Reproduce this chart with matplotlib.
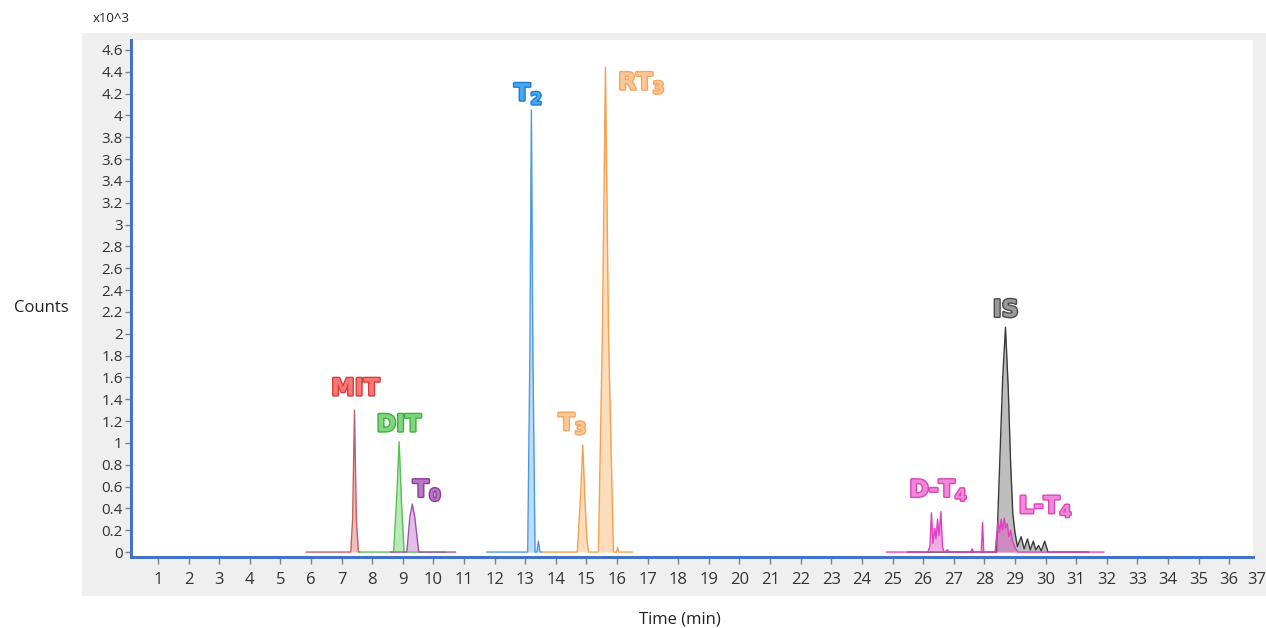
import matplotlib
matplotlib.use("Agg")
import matplotlib.pyplot as plt
import matplotlib.patheffects as pe
from matplotlib.patches import Rectangle

plt.rcParams['font.family'] = ['Open Sans', 'DejaVu Sans']

# traces (time in min, counts in x10^3)
mit_t = [5.85, 7.30, 7.36, 7.42, 7.48, 7.55, 7.60]
mit_y = [0.0, 0.0, 0.30, 1.30, 0.30, 0.0, 0.0]

dit_t = [7.55, 8.70, 8.80, 8.88, 8.95, 9.04, 10.40]
dit_y = [0.0, 0.0, 0.50, 1.01, 0.50, 0.0, 0.0]

t0_t = [8.60, 9.13, 9.23, 9.31, 9.39, 9.52, 10.72]
t0_y = [0.0, 0.0, 0.32, 0.44, 0.32, 0.0, 0.0]

t2_t = [11.75, 13.08, 13.15, 13.20, 13.25, 13.32, 13.38, 13.43, 13.48, 13.55]
t2_y = [0.0, 0.0, 1.80, 4.05, 1.80, 0.0, 0.0, 0.10, 0.0, 0.0]

t3_t = [13.55, 14.70, 14.80, 14.88, 14.95, 14.99, 15.02, 15.07,
        15.39, 15.52, 15.62, 15.72, 15.88, 15.98, 16.02, 16.06, 16.50]
t3_y = [0.0, 0.0, 0.48, 0.98, 0.48, 0.25, 0.10, 0.0,
        0.0, 2.00, 4.44, 2.00, 0.0, 0.0, 0.04, 0.0, 0.0]

is_t = [25.50, 28.40, 28.50, 28.60, 28.69, 28.78, 28.86, 28.93, 29.00, 29.08,
        29.20, 29.30, 29.41, 29.50, 29.60, 29.68, 29.77, 29.86, 29.97, 30.08, 31.40]
is_y = [0.0, 0.0, 0.80, 1.60, 2.06, 1.50, 0.80, 0.35, 0.18, 0.05,
        0.14, 0.03, 0.12, 0.02, 0.10, 0.02, 0.06, 0.01, 0.10, 0.0, 0.0]

t4_t = [24.80, 26.15, 26.22, 26.27, 26.32, 26.38, 26.42, 26.47, 26.52, 26.58,
        26.63, 26.68, 26.80, 26.85, 27.55, 27.60, 27.65, 27.90, 27.94, 27.98,
        28.35, 28.40, 28.45, 28.50, 28.55, 28.60, 28.65, 28.70, 28.75, 28.80,
        28.86, 28.92, 29.00, 29.10, 31.90]
t4_y = [0.0, 0.0, 0.05, 0.36, 0.08, 0.22, 0.12, 0.30, 0.15, 0.37,
        0.05, 0.0, 0.02, 0.0, 0.0, 0.03, 0.0, 0.0, 0.27, 0.0,
        0.0, 0.15, 0.28, 0.18, 0.30, 0.20, 0.31, 0.22, 0.26, 0.14,
        0.20, 0.10, 0.04, 0.0, 0.0]

# peak labels
labels = ['MIT', 'DIT', r'T$_\mathbf{0}$', r'T$_\mathbf{2}$', r'RT$_\mathbf{3}$',
          r'T$_\mathbf{3}$', 'IS', r'D-T$_\mathbf{4}$', r'L-T$_\mathbf{4}$']
label_x = [7.45, 8.87, 9.80, 13.10, 16.80, 14.55, 28.70, 26.50, 30.00]
label_y = [1.50, 1.17, 0.57, 4.20, 4.30, 1.18, 2.22, 0.57, 0.42]
label_fill = ['#f47a78', '#7fd67f', '#b777c4', '#49a6f0', '#fcc796',
              '#fcc796', '#9a9a9a', '#f088d6', '#f088d6']
label_edge = ['#e03a36', '#3fb03f', '#8e3c9c', '#1a7fd0', '#f6a660',
              '#f6a660', '#4a4a4a', '#dd44bb', '#dd44bb']

fig = plt.figure(figsize=(12.66, 6.28), dpi=100)
# grey panel behind the plot area
fig.add_artist(Rectangle((0.065, 0.051), 0.935, 0.896, transform=fig.transFigure,
                         facecolor='#efefef', edgecolor='none', zorder=-10))
ax = fig.add_axes([0.1035, 0.1131, 0.8863, 0.8232])
ax.set_facecolor('white')

traces = [
    (mit_t, mit_y, '#c0605f', '#f2a9a9'),
    (dit_t, dit_y, '#55c055', '#a6e2a6'),
    (t0_t, t0_y, '#a050b0', '#d9a9e1'),
    (t2_t, t2_y, '#4a9ae0', '#a9d1f6'),
    (t3_t, t3_y, '#f5a050', '#fcd2a4'),
    (is_t, is_y, '#3a3a3a', '#a8a8a8'),
]
for t, y, lc, fc in traces:
    ax.fill_between(t, y, 0, color=fc, alpha=0.75, lw=0, zorder=2)
    ax.plot(t, y, color=lc, lw=1.0, zorder=3)
ax.fill_between(t4_t, t4_y, 0, color='#e04cc4', alpha=0.45, lw=0, zorder=4)
ax.plot(t4_t, t4_y, color='#e040c0', lw=1.0, zorder=4)

for s, x, y, fc, ec in zip(labels, label_x, label_y, label_fill, label_edge):
    ax.text(x, y, s, color=fc, fontsize=17, fontweight='bold', family='DejaVu Sans',
            ha='center', va='center', zorder=6,
            path_effects=[pe.withStroke(linewidth=2.0, foreground=ec)])

ax.set_xlim(0.12, 36.78)
ax.set_ylim(-0.045, 4.69)
ax.set_xticks(range(1, 37))
yt = [round(0.2 * i, 1) for i in range(24)]
ax.set_yticks(yt)
ax.set_yticklabels(['%g' % v for v in yt])
ax.tick_params(axis='both', colors='#808080', labelcolor='#333333', labelsize=11)
ax.tick_params(axis='x', length=5, width=1, pad=6, labelsize=12)
ax.tick_params(axis='y', length=4, width=1, pad=2)
ax.text(36.9, -0.045, '37', transform=ax.get_xaxis_transform(), ha='center', va='center',
        fontsize=12, color='#333333', clip_on=False)

for side in ['top', 'right']:
    ax.spines[side].set_visible(False)
for side in ['left', 'bottom']:
    ax.spines[side].set_color('#4472c4')
    ax.spines[side].set_linewidth(2.2)

fig.text(0.033, 0.51, 'Counts', fontsize=12, ha='center', va='center', color='#222222')
fig.text(0.537, 0.014, 'Time (min)', fontsize=12, ha='center', va='center', color='#222222')
fig.text(0.088, 0.971, 'x10^3', fontsize=9.5, ha='center', va='center', color='#222222')

fig.savefig('out.png', dpi=100)
